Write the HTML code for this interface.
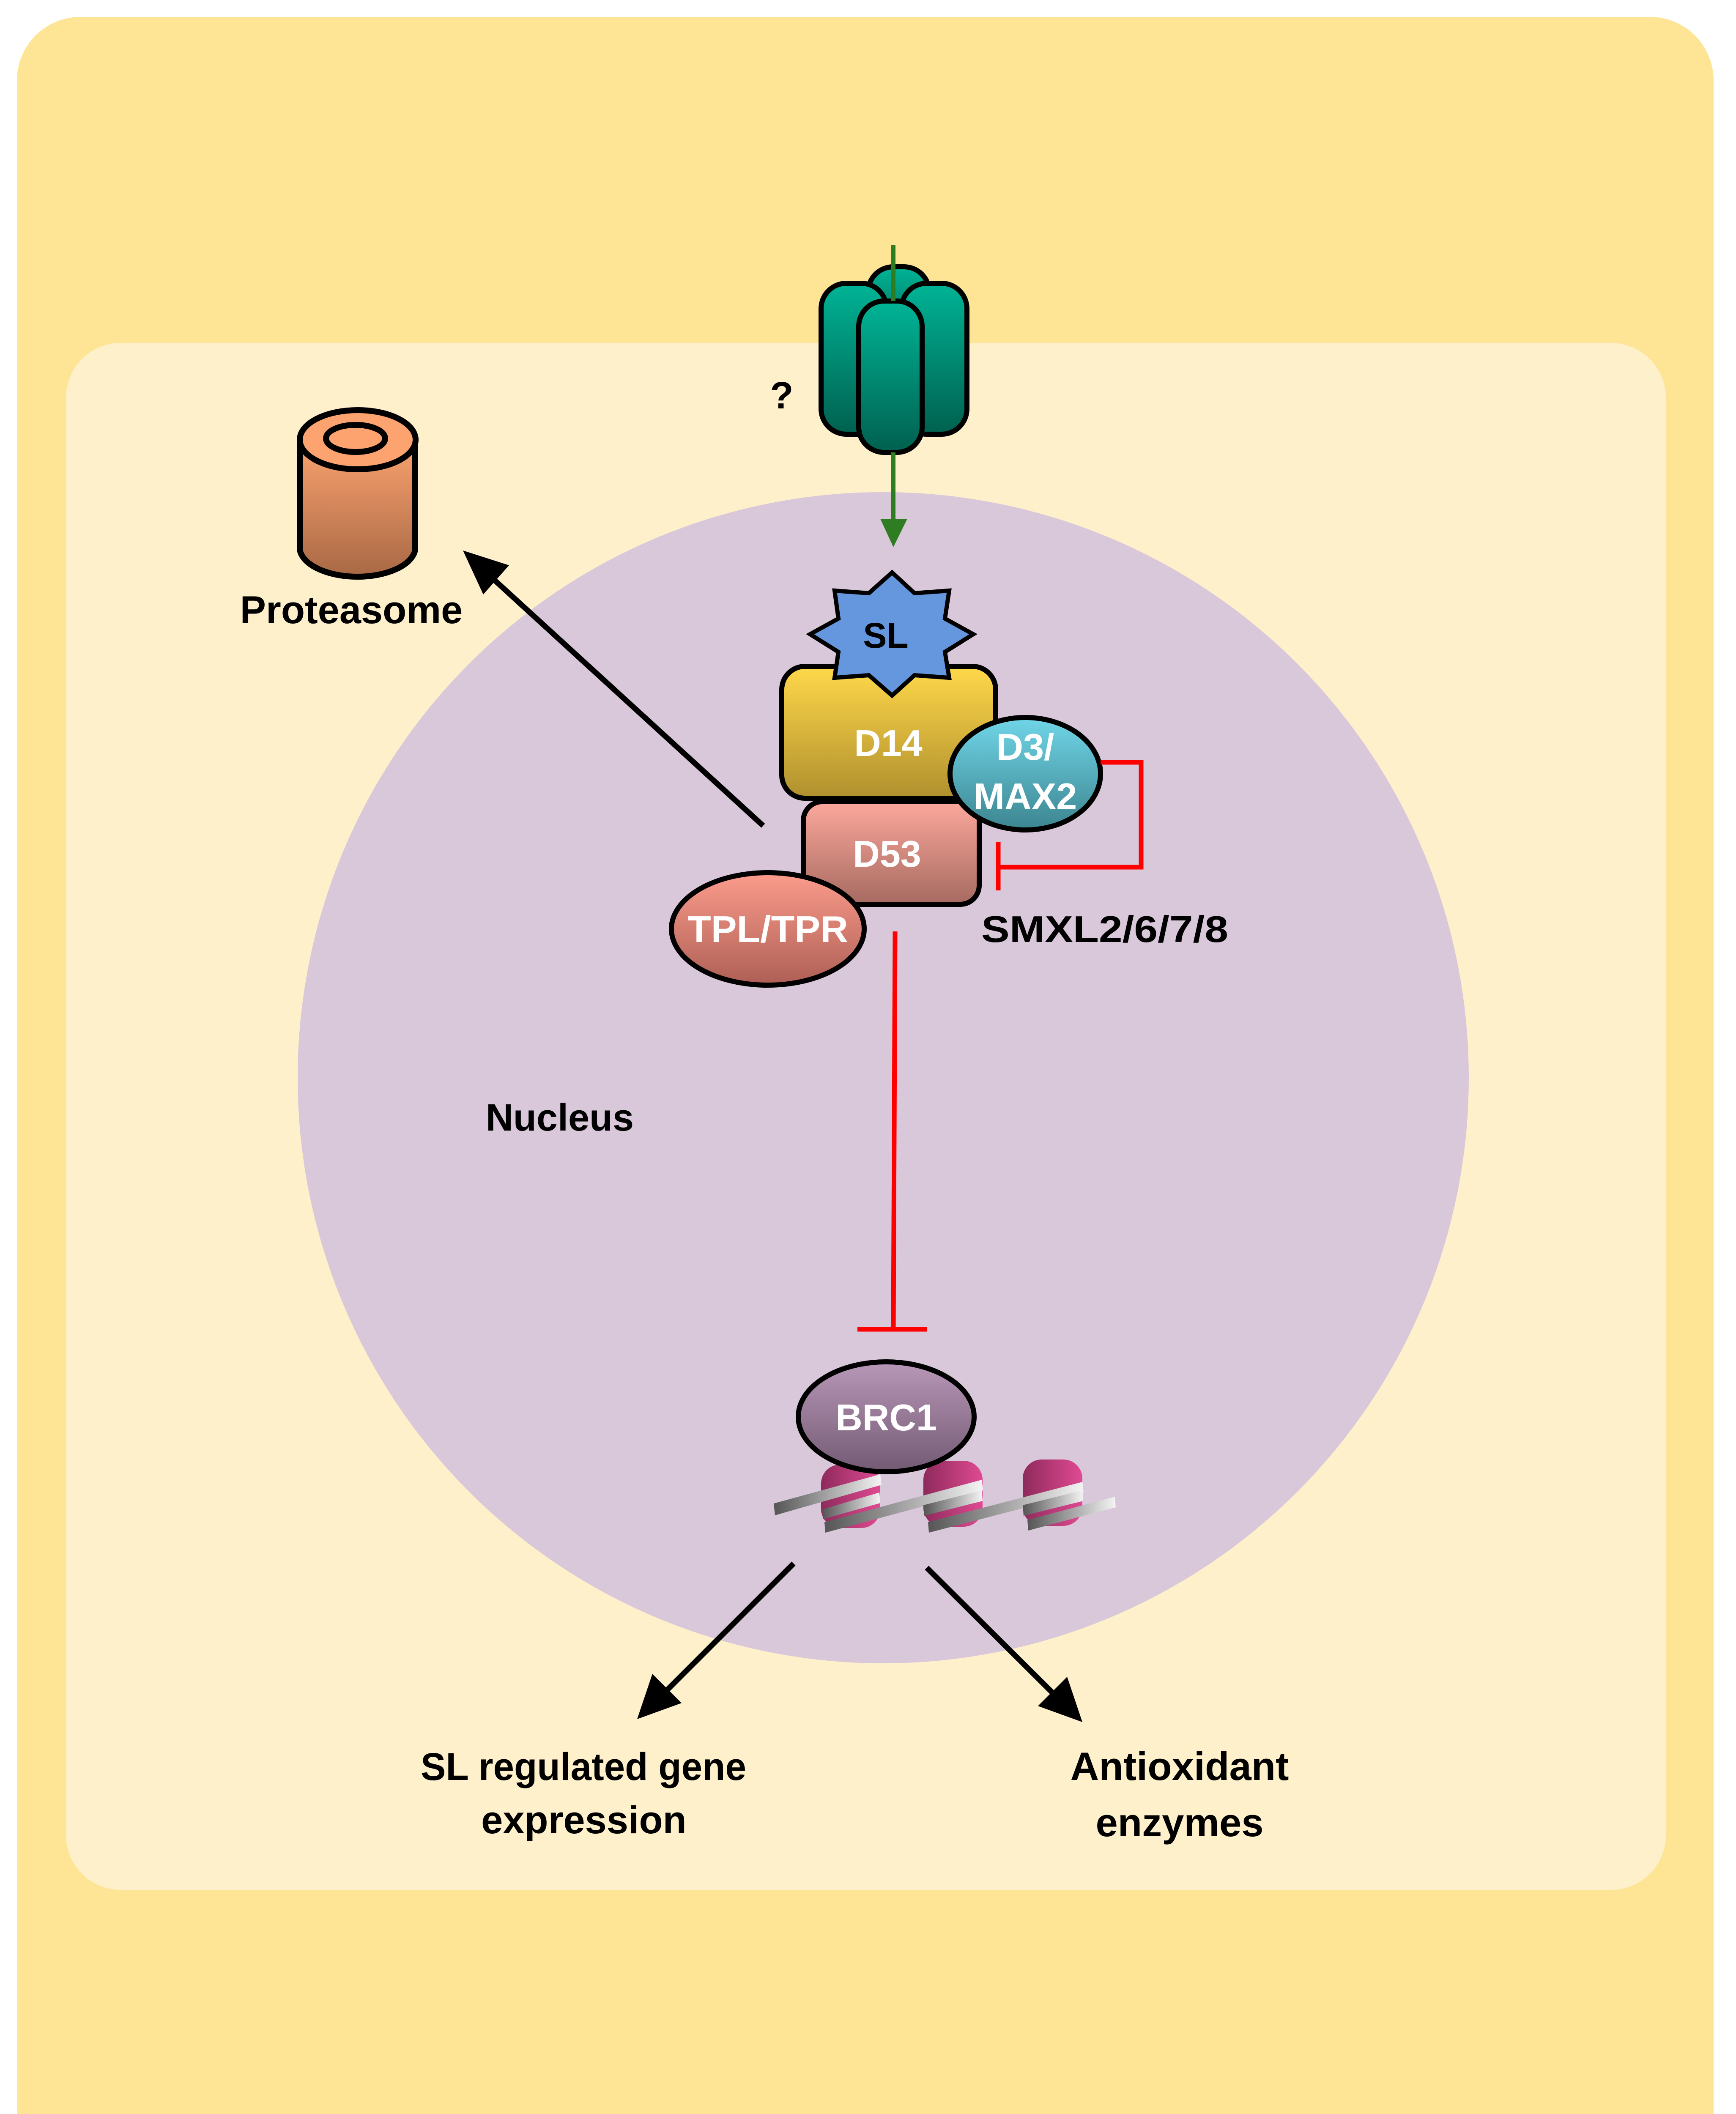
<!DOCTYPE html>
<html><head><meta charset="utf-8"><style>html,body{margin:0;padding:0;background:#fff;width:4106px;height:5209px;overflow:hidden}svg{display:block}</style></head><body>
<svg width="4106" height="5209" viewBox="0 0 4106 5209" xmlns="http://www.w3.org/2000/svg" font-family="Liberation Sans, sans-serif" font-weight="bold">
<defs>
<linearGradient id="gCh" x1="0" y1="0" x2="0" y2="1"><stop offset="0" stop-color="#00B496"/><stop offset="1" stop-color="#00604F"/></linearGradient>
<linearGradient id="gD14" x1="0" y1="0" x2="0" y2="1"><stop offset="0" stop-color="#FFD84A"/><stop offset="1" stop-color="#B0902E"/></linearGradient>
<linearGradient id="gD53" x1="0" y1="0" x2="0" y2="1"><stop offset="0" stop-color="#FCA89C"/><stop offset="1" stop-color="#A66A60"/></linearGradient>
<linearGradient id="gD3" x1="0" y1="0" x2="0" y2="1"><stop offset="0" stop-color="#70D6E8"/><stop offset="1" stop-color="#3C8590"/></linearGradient>
<linearGradient id="gTPL" x1="0" y1="0" x2="0" y2="1"><stop offset="0" stop-color="#FC9C8C"/><stop offset="1" stop-color="#AE5F55"/></linearGradient>
<linearGradient id="gBRC" x1="0" y1="0" x2="0" y2="1"><stop offset="0" stop-color="#B898B8"/><stop offset="1" stop-color="#735A73"/></linearGradient>
<linearGradient id="gPro" x1="0" y1="0" x2="0" y2="1"><stop offset="0" stop-color="#FCA370"/><stop offset="1" stop-color="#A86844"/></linearGradient>
<linearGradient id="gNuc" x1="0" y1="0" x2="1" y2="0"><stop offset="0" stop-color="#8E2A5C"/><stop offset="1" stop-color="#E04A92"/></linearGradient>
<linearGradient id="gDNA" x1="0" y1="0" x2="1" y2="0"><stop offset="0" stop-color="#555"/><stop offset="1" stop-color="#f4f4f4"/></linearGradient>
</defs>
<rect x="40" y="40" width="4013" height="5112" rx="150" fill="#FEE595"/>
<rect x="156" y="811" width="3784" height="3659" rx="130" fill="#FEF0CB"/>
<circle cx="2089" cy="2549" r="1385" fill="#D9C7DA"/>

<g stroke="#000" stroke-width="12" fill="url(#gCh)">
<rect x="2053" y="631" width="145" height="200" rx="60"/>
<rect x="1942" y="670" width="155" height="357" rx="60"/>
<rect x="2132" y="670" width="155" height="357" rx="60"/>
<rect x="2031" y="712" width="150" height="358" rx="60"/>
</g>
<line x1="2113" y1="579" x2="2113" y2="712" stroke="#2E7D22" stroke-width="10"/>
<line x1="2113" y1="1070" x2="2113" y2="1235" stroke="#2E7D22" stroke-width="10"/>
<polygon points="2082,1227 2146,1227 2113,1294" fill="#2E7D22"/>
<text x="1849" y="966" font-size="90" text-anchor="middle" fill="#000">?</text>

<g stroke="#000" stroke-width="14">
<path d="M709,1040 L709,1300 A137,70 0 0 0 982,1300 L982,1040 Z" fill="url(#gPro)"/>
<ellipse cx="846" cy="1040" rx="137" ry="70" fill="#FCA370"/>
<ellipse cx="841" cy="1037" rx="70" ry="32" fill="#FCA370"/>
</g>
<text x="831" y="1474" font-size="92" text-anchor="middle">Proteasome</text>

<rect x="1849" y="1576" width="506" height="312" rx="55" fill="url(#gD14)" stroke="#000" stroke-width="12"/>
<polygon points="2110,1354 2163,1403 2245,1397 2235,1463 2302,1500 2235,1542 2245,1603 2163,1597 2110,1645 2055,1597 1974,1603 1983,1542 1916,1500 1983,1463 1974,1397 2055,1403" fill="#6597DE" stroke="#000" stroke-width="10"/>
<text x="2095" y="1532" font-size="84" text-anchor="middle">SL</text>
<text x="2101" y="1788" font-size="88" text-anchor="middle" fill="#fff">D14</text>
<rect x="1900" y="1896" width="416" height="243" rx="45" fill="url(#gD53)" stroke="#000" stroke-width="12"/>
<text x="2098" y="2050" font-size="88" text-anchor="middle" fill="#fff">D53</text>
<ellipse cx="2425" cy="1830" rx="178" ry="133" fill="url(#gD3)" stroke="#000" stroke-width="12"/>
<text x="2425" y="1797" font-size="88" text-anchor="middle" fill="#fff">D3/</text>
<text x="2425" y="1914" font-size="88" text-anchor="middle" fill="#fff">MAX2</text>
<ellipse cx="1816" cy="2197" rx="228" ry="133" fill="url(#gTPL)" stroke="#000" stroke-width="12"/>
<text x="1816" y="2228" font-size="88" text-anchor="middle" fill="#fff" textLength="380" lengthAdjust="spacingAndGlyphs">TPL/TPR</text>

<polyline points="2603,1803 2699,1803 2699,2051 2361,2051" fill="none" stroke="#F00" stroke-width="11"/>
<line x1="2361" y1="1991" x2="2361" y2="2106" stroke="#F00" stroke-width="11"/>
<text x="2613" y="2228" font-size="88" text-anchor="middle" textLength="584" lengthAdjust="spacingAndGlyphs">SMXL2/6/7/8</text>
<line x1="2117" y1="2203" x2="2113" y2="3144" stroke="#F00" stroke-width="11"/>
<line x1="2028" y1="3144" x2="2193" y2="3144" stroke="#F00" stroke-width="11"/>

<text x="1324" y="2674" font-size="90" text-anchor="middle">Nucleus</text>

<g stroke="#000" stroke-width="13">
<line x1="1805" y1="1953" x2="1140" y2="1345"/>
<line x1="1877" y1="3698" x2="1550" y2="4025"/>
<line x1="2192" y1="3708" x2="2518" y2="4032"/>
</g>
<polygon points="1095,1302 1204,1337 1143,1406" fill="#000"/>
<polygon points="1507,4066 1543,3959 1612,4028" fill="#000"/>
<polygon points="2560,4073 2455,4035 2524,3966" fill="#000"/>

<g fill="url(#gNuc)">
<rect x="1942" y="3464" width="140" height="150" rx="45"/>
<rect x="2184" y="3455" width="140" height="156" rx="45"/>
<rect x="2419" y="3452" width="141" height="157" rx="45"/>
</g>
<g fill="url(#gDNA)">
<polygon points="1830,3556 2082,3487 2085,3512 1833,3584"/>
<polygon points="1945,3570 2080,3530 2082,3555 1947,3593"/>
<polygon points="1950,3600 2322,3500 2325,3525 1952,3625"/>
<polygon points="2184,3560 2322,3525 2324,3550 2186,3585"/>
<polygon points="2195,3600 2560,3505 2563,3530 2197,3625"/>
<polygon points="2419,3560 2560,3525 2562,3550 2421,3585"/>
<polygon points="2430,3595 2637,3540 2639,3565 2432,3620"/>
</g>
<ellipse cx="2096" cy="3351" rx="208" ry="130" fill="url(#gBRC)" stroke="#000" stroke-width="12"/>
<text x="2096" y="3383" font-size="88" text-anchor="middle" fill="#fff">BRC1</text>

<text x="1380" y="4210" font-size="92" text-anchor="middle" textLength="770" lengthAdjust="spacingAndGlyphs">SL regulated gene</text>
<text x="1381" y="4336" font-size="92" text-anchor="middle">expression</text>
<text x="2790" y="4210" font-size="94" text-anchor="middle">Antioxidant</text>
<text x="2790" y="4343" font-size="94" text-anchor="middle">enzymes</text>
</svg>
</body></html>
